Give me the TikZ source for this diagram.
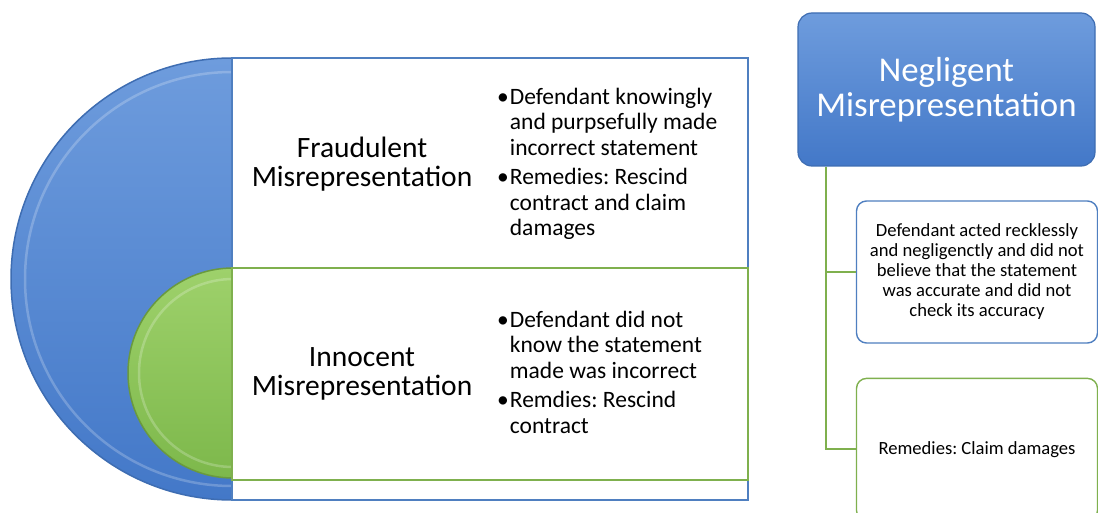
\documentclass[tikz,border=0pt]{standalone}
\usepackage{fontspec}
\setmainfont{Carlito}
\usetikzlibrary{positioning}

\definecolor{rimblue}{HTML}{3E6DB2}
\definecolor{topblue}{HTML}{6E9CDD}
\definecolor{lowblue}{HTML}{4378C8}
\definecolor{rimgreen}{HTML}{6A9A3E}
\definecolor{topgreen}{HTML}{9ED16B}
\definecolor{lowgreen}{HTML}{7DB84B}
\definecolor{edgeblue}{HTML}{4F7FC0}
\definecolor{edgegreen}{HTML}{7FB04E}

\tikzset{
	panel/.style={fill=white, line width=1.5pt, inner sep=0pt},
	title/.style={align=center, inner sep=0pt, font=\fontsize{29.5}{29}\selectfont},
	pts/.style={anchor=west, inner sep=0pt, font=\fontsize{23.5}{25.5}\selectfont},
	hdr/.style={rounded corners=14pt, draw=rimblue, line width=1.2pt, top color=topblue, bottom color=lowblue,
		text=white, align=center, inner sep=0pt, minimum width=297pt, minimum height=153pt,
		font=\fontsize{34.8}{35}\selectfont},
	leaf/.style={rounded corners=10pt, fill=white, line width=1.4pt, inner sep=0pt, align=center,
		minimum width=241pt, minimum height=142pt, font=\fontsize{18.6}{20}\selectfont},
	twig/.style={draw=edgegreen, line width=2pt},
}
\newcommand{\bul}{\textbullet}

\begin{document}
\frenchspacing
\begin{tikzpicture}[x=1pt, y=-1pt]
	\useasboundingbox (0,0) rectangle (1098,513);
	% left block: half disks and panels
	\fill[top color=topblue, bottom color=lowblue, draw=rimblue, line width=1.5pt]
		(232,58) arc[start angle=-90, end angle=-270, radius=221] -- cycle;
	\draw[white, opacity=0.22, line width=2.5pt] (232,72) arc[start angle=-90, end angle=-270, radius=207];
	\node[panel, draw=edgeblue, minimum width=516pt, minimum height=442pt] (fraudbox) at (490,279) {};
	\fill[top color=topgreen, bottom color=lowgreen, draw=rimgreen, line width=1.5pt]
		(233,268) arc[start angle=-90, end angle=-270, radius=105] -- cycle;
	\draw[white, opacity=0.22, line width=2.5pt] (233,279) arc[start angle=-90, end angle=-270, radius=94];
	\node[panel, draw=edgegreen, minimum width=516pt, minimum height=212pt] (innobox) at (490,374) {};

	% texts
	\node[title] (fraud) at (362,164) {Fraudulent\\Misrepresentation};
	\node[pts] (fraudpts) at (497,165) {\begin{tabular}{@{}l@{\hspace{1pt}}l@{}}
		\bul & Defendant knowingly\\
		& and purpsefully made\\
		& incorrect statement\\[4pt]
		\bul & Remedies: Rescind\\
		& contract and claim\\
		& damages
	\end{tabular}};
	\node[title] (inno) at (362,374) {Innocent\\Misrepresentation};
	\node[pts] (innopts) at (497,375) {\begin{tabular}{@{}l@{\hspace{1pt}}l@{}}
		\bul & Defendant did not\\
		& know the statement\\
		& made was incorrect\\[4pt]
		\bul & Remdies: Rescind\\
		& contract
	\end{tabular}};

	% right block: tree
	\node[hdr] (neg) at (946.5,89.5) {Negligent\\Misrepresentation};
	\node[leaf, draw=edgeblue] (reck) at (977,272) {Defendant acted recklessly\\and negligenctly and did not\\believe that the statement\\was accurate and did not\\check its accuracy};
	\node[leaf, draw=edgegreen, below=34pt of reck] (claim) {Remedies: Claim damages};
	\coordinate (trunk) at ([xshift=29pt]neg.south west);
	\draw[twig] (trunk) |- (reck.west);
	\draw[twig] (trunk) |- (claim.west);
\end{tikzpicture}
\end{document}
